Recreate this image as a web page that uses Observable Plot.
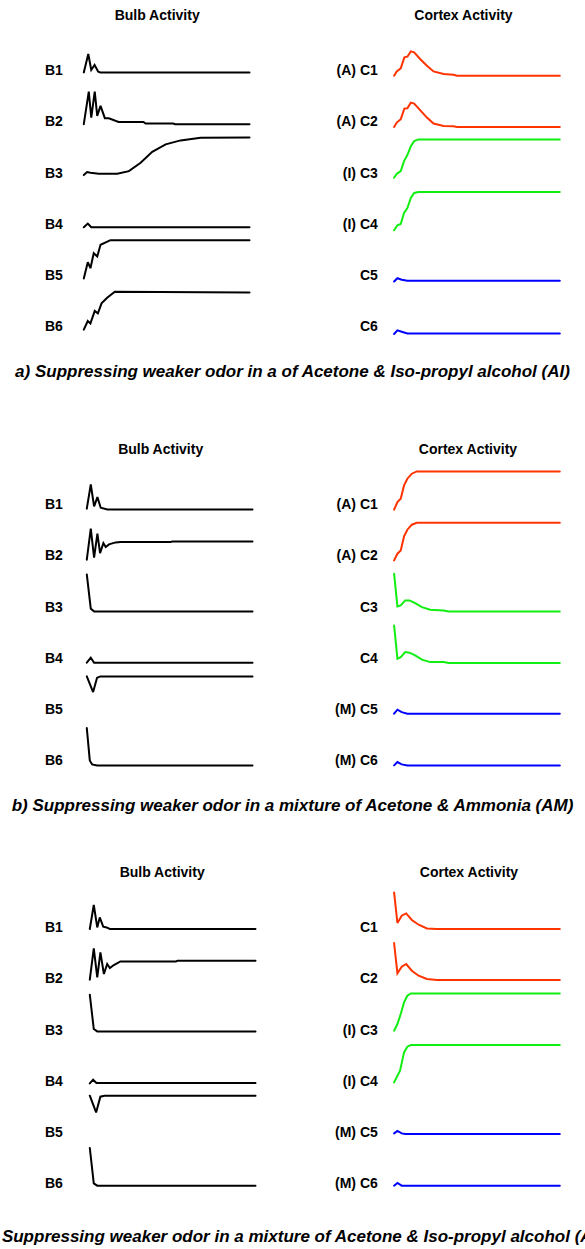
<!DOCTYPE html>
<html><head><meta charset="utf-8">
<script src="https://cdn.jsdelivr.net/npm/d3@7"></script>
<script src="https://cdn.jsdelivr.net/npm/@observablehq/plot@0.6"></script>
<style>
html,body{margin:0;padding:0;background:#fff;overflow:hidden;}
#root{position:relative;width:585px;height:1249px;}
.panel{position:absolute;left:0;}
.cap{position:absolute;left:0;width:585px;display:flex;justify-content:center;white-space:nowrap;font:italic bold 17px "Liberation Sans",Arial,sans-serif;line-height:20px;color:#000;}
</style></head><body><div id="root"></div><script>
// ---- data: each trace is a flat list of [time, activity, time, activity, ...] ----
const columnTitles = ["Bulb Activity", "Cortex Activity"];
const bulbLabels = ["B1", "B2", "B3", "B4", "B5", "B6"];
const cortexLabelsA = ["(A) C1", "(A) C2", "(I) C3", "(I) C4", "C5", "C6"];
const cortexLabelsB = ["(A) C1", "(A) C2", "C3", "C4", "(M) C5", "(M) C6"];
const cortexLabelsC = ["C1", "C2", "(I) C3", "(I) C4", "(M) C5", "(M) C6"];
const captions = [
  "a) Suppressing weaker odor in a of Acetone & Iso-propyl alcohol (AI)",
  "b) Suppressing weaker odor in a mixture of Acetone & Ammonia (AM)",
  "c) Suppressing weaker odor in a mixture of Acetone & Iso-propyl alcohol (AI)"
];

const bulbA = [
  [0,1.3, 2.7,19.7, 4.5,3.7, 6.5,8.7, 8.7,2, 10,1.3, 100,1.3],
  [0,0.7, 3,33.3, 4.5,7.3, 6.6,33.3, 8.1,9, 10.1,19, 12.7,6.7, 15.1,6.7, 21,3, 36,3, 37.3,1.3, 54,1.3, 55,0.7, 100,0.7],
  [0,1, 2,4, 4,3.3, 9,2.3, 20.2,2.3, 27.2,5, 34.3,13.3, 41.3,24.3, 49.4,31.7, 58.4,35.7, 70.5,38.3, 100,38.7],
  [0,0, 2.4,3.7, 4.5,0, 100,0],
  [0,0, 2.4,16.3, 4,10.3, 6,25.3, 8.1,22, 10.1,33.7, 16.1,38.3, 100,38.3],
  [0,0, 2.4,8.7, 4,6.3, 6.6,18.7, 8.5,16.3, 10.7,26.3, 14.1,32, 18.7,38, 100,37.3]
];
const cortexA = [
  [0,-2, 1.6,2.3, 4,5.3, 6.2,16.3, 8,17, 10.1,22.3, 12.1,21.3, 15.7,14.7, 19.8,8, 23.8,2.3, 29.9,-0.3, 35.9,-1, 37.9,-2, 100,-2],
  [0,-2, 1.6,2.3, 4,5.7, 6.2,16.3, 8,16.7, 10.1,22.3, 12.1,21.3, 15.7,14.7, 19.8,7.3, 23.8,1.3, 29.9,-1, 35.9,-1.3, 37.9,-2, 100,-2],
  [0,-1.7, 1.6,2.3, 4,5, 6,15, 8,21, 10.1,30, 12.1,35, 14.7,36.7, 100,36.7],
  [0,-3, 2,2, 4,3.3, 6,14.3, 8,19.3, 10.1,29.3, 12.1,34.3, 14.7,35.3, 100,35.3],
  [0,-3, 2,0.3, 4.6,-1.3, 8,-2.3, 100,-2.3],
  [0,-4.3, 2,-0.7, 4.6,-2, 8,-3.7, 100,-3.7]
];
const bulbB = [
  [0,-1, 2.4,23.3, 4.4,1.3, 6.4,10.6, 8.4,0, 12.4,-1.7, 100,-1.7],
  [0,-0.8, 2.4,30.2, 4.4,1.2, 6.4,25.2, 8,5.8, 10,15.8, 11.4,11.8, 13.4,14.5, 17.4,16.5, 20.4,16.8, 50.7,16.8, 51.5,17.5, 100,17.5],
  [0,35.7, 2.4,1.4, 4.4,-1.3, 100,-1.3],
  [0,-1.4, 2.4,3.6, 4.4,-1.4, 100,-1.4],
  [0,36.1, 3.8,20.4, 6.2,34.8, 8.2,36.1, 100,36.1],
  [0,35.6, 1.8,3.3, 3.2,-0.7, 6.2,-1.7, 100,-1.7]
];
const cortexB = [
  [0,-2, 2,5.6, 4,9, 6,22.3, 8,29, 10.7,34, 13.7,36.3, 100,36.3],
  [0,-1.5, 2,5.2, 4,8.5, 6,22.5, 8,29.2, 10.7,34.2, 13.7,36.2, 100,36.2],
  [0,36.4, 2,3.7, 4,4.7, 6.7,9.7, 9.3,9.7, 12.7,7, 16.8,3, 21.8,0.4, 29.9,-0.3, 32.9,-1.3, 100,-1.3],
  [0,35.9, 2,2.6, 4,4.2, 6.7,9.2, 9.3,8.6, 12.7,5.9, 16.8,1.6, 21.8,-0.8, 29.9,-0.8, 32.9,-1.8, 100,-1.8],
  [0,-1.2, 2,2.8, 4.6,0.4, 8,-1.2, 100,-1.2],
  [0,-1.7, 2,1.6, 4.6,-0.7, 8,-1.7, 100,-1.7]
];
const bulbC = [
  [0,1.7, 2.4,25.7, 4.5,3.3, 6,13.3, 8.1,4, 10.1,3.3, 12.1,1.7, 100,1.7],
  [0,2.2, 2.4,33.5, 4.5,4.5, 6.4,29.5, 8.5,7.9, 10.5,17.9, 12.1,13.9, 14.5,16.9, 18.5,20.5, 52,20.5, 53,21.2, 100,21.2],
  [0,38.4, 2.4,4.1, 4.5,1.7, 100,1.7],
  [0,0.9, 2,4.6, 4,1.3, 100,1.3],
  [0,39.8, 3.8,23.1, 6.4,38.8, 8.8,39.8, 100,39.8],
  [0,38.7, 2.4,3.3, 4.5,1, 100,1]
];
const cortexC = [
  [0,38.3, 2,7.7, 4.6,15, 7.3,17.3, 10.7,10.7, 14.8,6, 19.8,2.3, 25.8,1.7, 100,1.7],
  [0,38.9, 2,8.5, 4.6,15.2, 7.3,17.9, 10.7,11.2, 14.8,6.2, 19.8,2.9, 25.8,1.9, 100,1.9],
  [0,2.4, 2,9.1, 4,19.1, 6,30.7, 8,37.4, 10.1,39.7, 100,39.7],
  [0,1.9, 2,8.6, 3.6,13.6, 6,31.9, 8,37.6, 10.1,39.3, 100,39.3],
  [0,2.1, 2,4.5, 4.6,2.1, 6.7,1.5, 100,1.5],
  [0,1, 2,3.7, 4.6,1, 100,1]
];

// ---- styles / layout ----
const cortexColors = ["#ff3300", "#ff3300", "#11ee11", "#11ee11", "#0000ff", "#0000ff"];
const W = 585, STEP = 51.2, MT = 22, MB = 20.8, H = 350;
const FONT = '"Liberation Sans", Arial, Helvetica, sans-serif';

function panel(p) {
  const bw = 165.7;
  const span = p.cortexEnd - p.bulbStart;
  const stepFx = span - bw;
  const pad = 1 - bw / stepFx;
  const pts = [];
  [["bulb", p.bulb], ["cortex", p.cortex]].forEach(([col, traces]) => traces.forEach((flat, row) => {
    for (let i = 0; i < flat.length; i += 2) {
      pts.push({col, row, key: col + row, t: flat[i], v: flat[i + 1],
        color: col === "bulb" ? "#000000" : cortexColors[row]});
    }
  }));
  const bLab = bulbLabels.map((text, row) => ({col: "bulb", row, text}));
  const cLab = p.cortexLabels.map((text, row) => ({col: "cortex", row, text}));
  const cortexStart = p.cortexEnd - bw;
  return Plot.plot({
    width: W, height: H,
    marginLeft: p.bulbStart, marginRight: W - p.cortexEnd, marginTop: MT, marginBottom: MB,
    style: {fontFamily: FONT, fontSize: "14px", fontWeight: "bold", background: "transparent", overflow: "visible"},
    fx: {domain: ["bulb", "cortex"], paddingInner: pad, paddingOuter: 0, round: false, axis: null},
    fy: {domain: d3.range(6), padding: 0, round: false, axis: null},
    x: {domain: [0, 100], axis: null},
    y: {domain: [0, STEP], axis: null},
    color: {type: "identity"},
    marks: [
      Plot.line(pts, {fx: "col", fy: "row", x: "t", y: "v", z: "key", stroke: "color", strokeWidth: 2, strokeLinejoin: "miter", strokeMiterlimit: 3}),
      Plot.text(bLab, {fx: "col", fy: "row", text: "text", frameAnchor: "bottom-left", textAnchor: "end", lineAnchor: "middle", dx: 62.3 - p.bulbStart, dy: -3, fill: "#000"}),
      Plot.text(cLab, {fx: "col", fy: "row", text: "text", frameAnchor: "bottom-left", textAnchor: "end", lineAnchor: "middle", dx: 377.3 - cortexStart, dy: -3, fill: "#000"}),
      Plot.text([{col: "bulb", row: 0, text: columnTitles[0]}], {fx: "col", fy: "row", text: "text", frameAnchor: "top", lineAnchor: "middle", dx: p.titleDx[0], dy: -7}),
      Plot.text([{col: "cortex", row: 0, text: columnTitles[1]}], {fx: "col", fy: "row", text: "text", frameAnchor: "top", lineAnchor: "middle", dx: p.titleDx[1], dy: -7})
    ]
  });
}

const root = document.getElementById("root");
const panels = [
  {top: 0, bulbStart: 83.3, cortexEnd: 559.3, bulb: bulbA, cortex: cortexA, cortexLabels: cortexLabelsA, titleDx: [-9.5, -13.5], capY: 362},
  {top: 434.3, bulbStart: 86.3, cortexEnd: 559.3, bulb: bulbB, cortex: cortexB, cortexLabels: cortexLabelsB, titleDx: [-9, -9], capY: 796},
  {top: 857, bulbStart: 89.3, cortexEnd: 559.3, bulb: bulbC, cortex: cortexC, cortexLabels: cortexLabelsC, titleDx: [-10.5, -8], capY: 1227}
];
panels.forEach((p, i) => {
  const el = panel(p);
  el.classList.add("panel");
  el.style.top = p.top + "px";
  root.appendChild(el);
  const cap = document.createElement("div");
  cap.className = "cap";
  cap.style.top = p.capY + "px";
  cap.textContent = captions[i];
  root.appendChild(cap);
});
</script></body></html>
